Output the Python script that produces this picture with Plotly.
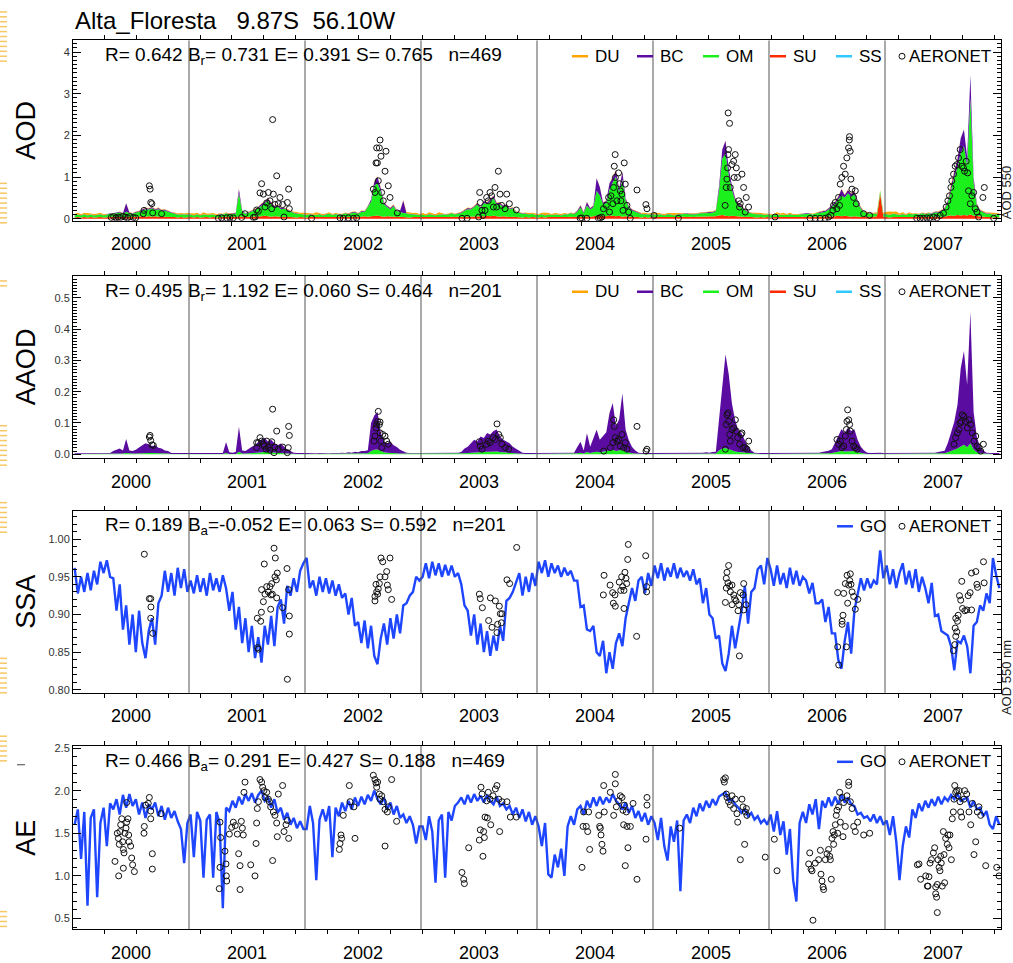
import plotly.graph_objects as go

FONT = "Liberation Sans, Arial, Helvetica, sans-serif"

# ---------------------------------------------------------------- text
site_title = "Alta_Floresta\u00a0\u00a0\u00a09.87S\u00a0\u00a056.10W"
years = [2000, 2001, 2002, 2003, 2004, 2005, 2006, 2007]
year_labels = ["2000", "2001", "2002", "2003", "2004", "2005", "2006", "2007"]
panel_titles = ["AOD", "AAOD", "SSA", "AE"]
S3 = "\u00a0\u00a0\u00a0"
panel_stats = [
    "R= 0.642 B<sub>r</sub>= 0.731 E= 0.391 S= 0.765" + S3 + "n=469",
    "R= 0.495 B<sub>r</sub>= 1.192 E= 0.060 S= 0.464" + S3 + "n=201",
    "R= 0.189 B<sub>a</sub>=-0.052 E= 0.063 S= 0.592" + S3 + "n=201",
    "R= 0.466 B<sub>a</sub>= 0.291 E= 0.427 S= 0.188" + S3 + "n=469",
]
SLOTS_PER_YEAR = 36  # model values every ~10 days

# ---------------------------------------------------------------- model (GO) values, one list per year
aod_su = [
    [.03,.04,.03,.04,.03,.04,.03,.04,.04,.03,.04,.04,.05,.04,.05,.04,.05,.05,.04,.05,.05,.06,.05,.06,.05,.06,.05,.05,.04,.05,.04,.04,.03,.04,.03,.04],
    [.04,.03,.04,.03,.04,.04,.03,.04,.03,.04,.04,.05,.04,.05,.04,.06,.05,.04,.05,.05,.06,.05,.06,.07,.06,.05,.06,.05,.05,.04,.05,.04,.04,.03,.04,.03],
    [.03,.04,.04,.03,.04,.03,.04,.04,.03,.04,.05,.04,.05,.04,.05,.05,.04,.05,.06,.05,.06,.07,.08,.06,.05,.06,.05,.05,.04,.05,.04,.04,.03,.04,.04,.03],
    [.04,.03,.04,.04,.03,.04,.03,.04,.04,.05,.04,.05,.04,.05,.05,.06,.05,.06,.05,.06,.07,.06,.07,.06,.05,.06,.05,.04,.05,.04,.04,.03,.04,.03,.04,.03],
    [.03,.04,.03,.04,.04,.03,.04,.03,.04,.04,.05,.04,.05,.05,.04,.06,.05,.06,.07,.06,.07,.06,.08,.07,.06,.07,.05,.06,.05,.04,.05,.04,.03,.04,.03,.04],
    [.04,.03,.04,.03,.04,.04,.03,.04,.04,.05,.04,.05,.04,.05,.05,.06,.05,.06,.05,.06,.08,.09,.07,.06,.07,.06,.05,.05,.04,.05,.04,.04,.03,.04,.03,.04],
    [.03,.04,.04,.03,.04,.03,.04,.04,.03,.04,.05,.04,.05,.04,.05,.05,.06,.05,.06,.05,.06,.07,.06,.07,.06,.05,.06,.05,.04,.05,.04,.04,.05,.06,.60,.05],
    [.04,.03,.04,.04,.03,.04,.03,.04,.04,.05,.04,.05,.04,.05,.05,.06,.05,.06,.05,.07,.08,.07,.09,.08,.09,.08,.10,.07,.06,.05,.05,.04,.04,.03,.04,.03],
]
aod_om = [
    [.05,.06,.05,.07,.05,.06,.05,.06,.07,.05,.06,.08,.07,.09,.10,.08,.12,.09,.08,.10,.11,.14,.18,.16,.20,.15,.18,.14,.16,.12,.10,.08,.07,.06,.07,.06],
    [.06,.05,.07,.05,.06,.05,.07,.06,.05,.07,.06,.08,.07,.06,.08,.55,.12,.08,.10,.12,.15,.20,.26,.30,.38,.30,.22,.25,.18,.20,.15,.12,.10,.09,.08,.07],
    [.06,.07,.05,.06,.07,.05,.06,.08,.06,.07,.05,.06,.08,.07,.09,.10,.08,.12,.10,.22,.35,.72,.78,.60,.30,.22,.18,.25,.14,.12,.10,.09,.08,.07,.06,.06],
    [.06,.05,.07,.06,.05,.06,.07,.05,.06,.08,.06,.07,.10,.14,.18,.16,.22,.28,.20,.32,.28,.36,.42,.28,.30,.22,.26,.18,.20,.12,.10,.09,.08,.07,.08,.06],
    [.06,.07,.05,.06,.05,.07,.06,.05,.07,.06,.08,.07,.12,.22,.10,.26,.17,.22,.60,.50,.28,.32,.62,.80,.95,.58,.90,.38,.22,.16,.12,.10,.08,.07,.07,.06],
    [.06,.07,.06,.05,.07,.06,.05,.06,.07,.06,.08,.06,.07,.06,.08,.07,.09,.08,.10,.12,.60,1.35,1.50,1.00,.62,.38,.28,.22,.17,.10,.09,.08,.07,.07,.06,.06],
    [.06,.05,.07,.06,.05,.06,.07,.05,.06,.07,.06,.08,.07,.06,.08,.09,.10,.12,.16,.24,.30,.40,.50,.44,.55,.48,.52,.34,.20,.11,.09,.08,.07,.06,.06,.06],
    [.07,.06,.08,.07,.06,.07,.06,.08,.06,.07,.06,.08,.07,.08,.07,.09,.10,.12,.18,.32,.65,.92,1.15,1.50,1.65,1.20,2.80,.80,.26,.14,.10,.08,.08,.07,.07,.06],
]
aod_bc = [
    [.005,.005,.005,.005,.005,.005,.005,.005,.005,.005,.01,.01,.01,.01,.015,.01,.20,.01,.01,.015,.02,.025,.03,.025,.03,.02,.03,.02,.02,.015,.01,.01,.005,.005,.005,.005],
    [.005,.005,.005,.005,.005,.005,.005,.005,.005,.01,.01,.01,.01,.01,.015,.10,.02,.01,.015,.02,.02,.03,.04,.04,.05,.04,.03,.03,.025,.02,.02,.015,.01,.01,.005,.005],
    [.005,.005,.005,.005,.005,.005,.005,.005,.005,.005,.01,.01,.01,.01,.015,.02,.01,.015,.02,.03,.05,.10,.15,.08,.04,.03,.03,.03,.02,.02,.30,.01,.01,.005,.005,.005],
    [.005,.005,.005,.005,.005,.005,.005,.005,.005,.01,.01,.01,.015,.02,.03,.025,.03,.04,.03,.05,.04,.05,.06,.04,.04,.03,.035,.025,.02,.015,.01,.01,.01,.005,.005,.005],
    [.005,.005,.005,.005,.005,.005,.005,.005,.005,.01,.01,.01,.02,.05,.015,.08,.03,.04,.30,.20,.04,.05,.15,.12,.15,.07,.18,.05,.03,.02,.015,.01,.01,.005,.005,.005],
    [.005,.005,.005,.005,.005,.005,.005,.005,.005,.005,.01,.01,.01,.01,.01,.015,.01,.015,.02,.02,.10,.22,.30,.15,.10,.06,.04,.03,.025,.015,.01,.01,.005,.005,.005,.005],
    [.005,.005,.005,.005,.005,.005,.005,.005,.005,.005,.01,.01,.01,.01,.01,.015,.02,.02,.03,.04,.05,.06,.15,.06,.08,.07,.08,.05,.03,.015,.01,.01,.005,.005,.005,.005],
    [.005,.005,.005,.005,.005,.005,.005,.005,.005,.005,.01,.01,.01,.01,.01,.015,.02,.02,.03,.05,.10,.14,.20,.35,.40,.20,.55,.12,.04,.02,.015,.01,.01,.005,.005,.005],
]
aod_du = [
    [.03,.04,.02,.03,.05,.02,.03,.02,.03,.02,.01,.01,.01,.01,.01,.01,.01,.01,.01,.01,.01,.01,.01,.01,.01,.01,.01,.01,.01,.01,.01,.02,.02,.03,.02,.03],
    [.02,.04,.03,.02,.05,.03,.02,.03,.02,.01,.01,.01,.01,.01,.01,.01,.01,.01,.01,.01,.01,.01,.01,.01,.01,.01,.01,.01,.01,.01,.02,.01,.02,.03,.02,.04],
    [.04,.02,.03,.06,.02,.03,.02,.03,.02,.02,.01,.01,.01,.01,.01,.01,.01,.01,.01,.01,.01,.01,.01,.01,.01,.01,.01,.01,.01,.01,.01,.02,.03,.02,.04,.02],
    [.03,.02,.04,.03,.02,.05,.03,.02,.02,.01,.01,.01,.01,.01,.01,.01,.01,.01,.01,.01,.01,.01,.01,.01,.01,.01,.01,.01,.01,.01,.02,.01,.02,.03,.02,.03],
    [.02,.03,.06,.04,.02,.03,.02,.03,.02,.01,.01,.01,.01,.01,.01,.01,.01,.01,.01,.01,.01,.01,.01,.01,.01,.01,.01,.01,.01,.01,.01,.02,.02,.03,.02,.03],
    [.03,.04,.02,.03,.02,.03,.04,.02,.02,.01,.01,.01,.01,.01,.01,.01,.01,.01,.01,.01,.01,.01,.01,.01,.01,.01,.01,.01,.01,.01,.01,.02,.03,.02,.03,.02],
    [.03,.02,.04,.03,.05,.02,.03,.02,.02,.01,.01,.01,.01,.01,.01,.01,.01,.01,.01,.01,.01,.01,.01,.01,.01,.01,.01,.01,.01,.01,.02,.01,.02,.03,.02,.03],
    [.05,.08,.04,.06,.03,.04,.02,.03,.02,.01,.01,.01,.01,.01,.01,.01,.01,.01,.01,.01,.01,.01,.01,.01,.01,.01,.01,.01,.01,.01,.01,.02,.02,.03,.02,.03],
]
aaod_om = [
    [.001,.001,.001,.001,.001,.001,.001,.001,.001,.001,.001,.001,.002,.002,.003,.002,.004,.002,.002,.002,.003,.004,.005,.004,.004,.004,.003,.003,.002,.002,.001,.001,.001,.001,.001,.001],
    [.001,.001,.001,.001,.001,.001,.001,.001,.001,.001,.001,.004,.001,.001,.001,.008,.002,.002,.003,.004,.004,.005,.006,.007,.006,.006,.005,.004,.004,.003,.002,.002,.001,.001,.001,.001],
    [.001,.001,.001,.001,.001,.001,.001,.001,.001,.001,.001,.001,.001,.001,.001,.002,.001,.002,.002,.003,.010,.014,.015,.010,.006,.005,.005,.004,.003,.002,.002,.001,.001,.001,.001,.001],
    [.001,.001,.001,.001,.001,.001,.001,.001,.001,.001,.001,.001,.002,.003,.004,.005,.006,.006,.007,.007,.008,.008,.009,.009,.007,.006,.005,.005,.004,.003,.002,.001,.001,.001,.001,.001],
    [.001,.001,.001,.001,.001,.001,.001,.001,.001,.001,.001,.001,.003,.005,.002,.007,.004,.006,.008,.006,.008,.010,.012,.014,.010,.012,.014,.008,.005,.003,.002,.001,.001,.001,.001,.001],
    [.001,.001,.001,.001,.001,.001,.001,.001,.001,.001,.001,.001,.001,.001,.001,.001,.001,.001,.002,.002,.012,.018,.020,.016,.012,.009,.007,.006,.004,.003,.002,.001,.001,.001,.001,.001],
    [.001,.001,.001,.001,.001,.001,.001,.001,.001,.001,.001,.001,.001,.001,.001,.001,.002,.002,.003,.004,.006,.008,.010,.009,.010,.009,.010,.006,.004,.002,.001,.001,.001,.001,.001,.001],
    [.001,.001,.001,.001,.001,.001,.001,.001,.001,.001,.001,.001,.001,.001,.001,.001,.002,.002,.003,.006,.010,.014,.018,.025,.030,.022,.035,.015,.006,.003,.002,.001,.001,.001,.001,.001],
]
aaod_bc = [
    [.002,.002,.003,.002,.002,.003,.002,.002,.003,.002,.002,.003,.008,.012,.015,.010,.045,.010,.008,.012,.020,.025,.030,.028,.022,.025,.018,.015,.010,.008,.003,.003,.003,.002,.003,.002],
    [.003,.002,.003,.002,.003,.002,.003,.002,.003,.002,.003,.035,.005,.004,.006,.080,.010,.008,.015,.020,.025,.035,.040,.045,.035,.040,.030,.025,.030,.020,.012,.008,.004,.003,.004,.003],
    [.003,.002,.003,.002,.003,.002,.003,.002,.003,.002,.003,.004,.003,.005,.004,.006,.005,.008,.008,.010,.090,.110,.120,.060,.035,.030,.035,.025,.020,.012,.008,.004,.003,.004,.003,.003],
    [.003,.002,.003,.002,.003,.002,.003,.002,.003,.002,.003,.004,.005,.015,.020,.030,.040,.035,.050,.045,.060,.055,.065,.070,.050,.040,.035,.030,.020,.015,.010,.004,.003,.004,.003,.003],
    [.003,.002,.003,.002,.003,.002,.003,.002,.003,.002,.003,.004,.020,.035,.010,.060,.020,.045,.070,.040,.050,.060,.120,.150,.080,.100,.180,.070,.040,.020,.010,.004,.003,.004,.003,.003],
    [.003,.002,.003,.002,.003,.002,.003,.002,.003,.002,.003,.004,.003,.004,.003,.004,.005,.004,.005,.006,.100,.200,.300,.240,.150,.100,.070,.060,.040,.020,.010,.004,.003,.004,.003,.003],
    [.003,.002,.003,.002,.003,.002,.003,.002,.003,.002,.003,.004,.003,.004,.003,.004,.005,.006,.008,.012,.030,.050,.070,.060,.075,.065,.070,.040,.020,.010,.004,.003,.004,.003,.004,.003],
    [.003,.002,.003,.002,.003,.002,.003,.002,.003,.002,.003,.004,.003,.004,.003,.004,.005,.006,.008,.030,.060,.090,.140,.250,.300,.200,.420,.120,.050,.020,.010,.004,.003,.004,.003,.003],
]
ssa_go = [
    [0.962,0.928,0.950,0.930,0.955,0.932,0.958,0.940,0.970,0.955,0.972,0.950,0.948,0.905,0.940,0.880,0.912,0.860,0.900,0.850,0.905,0.862,0.842,0.878,0.895,0.860,0.915,0.925,0.958,0.930,0.955,0.925,0.962,0.935,0.960,0.930],
    [0.945,0.928,0.952,0.930,0.948,0.925,0.955,0.932,0.948,0.930,0.952,0.935,0.905,0.930,0.880,0.910,0.862,0.895,0.850,0.885,0.842,0.870,0.836,0.885,0.860,0.898,0.858,0.910,0.920,0.888,0.938,0.925,0.948,0.930,0.958,0.968],
    [0.975,0.935,0.945,0.925,0.950,0.930,0.948,0.928,0.945,0.925,0.940,0.922,0.928,0.900,0.922,0.885,0.890,0.862,0.892,0.855,0.885,0.845,0.834,0.868,0.888,0.860,0.895,0.868,0.900,0.875,0.912,0.915,0.925,0.930,0.950,0.945],
    [0.950,0.968,0.948,0.970,0.952,0.968,0.950,0.966,0.952,0.965,0.950,0.955,0.940,0.912,0.905,0.872,0.900,0.860,0.888,0.850,0.878,0.845,0.872,0.852,0.885,0.865,0.918,0.922,0.930,0.942,0.955,0.925,0.950,0.930,0.955,0.938],
    [0.970,0.955,0.972,0.950,0.968,0.955,0.965,0.950,0.962,0.952,0.958,0.945,0.945,0.910,0.912,0.880,0.878,0.885,0.850,0.845,0.865,0.822,0.850,0.828,0.862,0.875,0.858,0.895,0.915,0.935,0.918,0.945,0.950,0.928,0.955,0.938],
    [0.965,0.948,0.968,0.945,0.962,0.950,0.968,0.948,0.962,0.950,0.958,0.945,0.960,0.940,0.948,0.915,0.935,0.900,0.895,0.868,0.872,0.835,0.825,0.848,0.885,0.855,0.880,0.905,0.938,0.888,0.930,0.935,0.960,0.965,0.940,0.975],
    [0.960,0.938,0.965,0.940,0.955,0.935,0.962,0.940,0.958,0.938,0.950,0.945,0.928,0.942,0.915,0.915,0.920,0.890,0.910,0.875,0.875,0.840,0.828,0.865,0.890,0.848,0.905,0.925,0.948,0.932,0.948,0.935,0.945,0.940,0.985,0.948],
    [0.965,0.940,0.960,0.935,0.955,0.968,0.940,0.958,0.935,0.960,0.930,0.950,0.935,0.915,0.942,0.898,0.900,0.878,0.875,0.872,0.858,0.826,0.865,0.862,0.872,0.858,0.822,0.885,0.890,0.912,0.905,0.928,0.915,0.975,0.952,0.935],
]
ae_go = [
    [1.60,1.78,1.20,1.75,0.65,1.68,1.78,0.75,1.62,1.80,1.35,1.85,1.78,1.90,1.72,1.95,1.80,1.96,1.82,1.90,1.72,1.86,1.68,1.84,1.78,1.86,1.70,1.82,1.66,1.80,1.68,1.76,1.64,1.55,1.15,1.62],
    [1.72,1.22,1.75,1.65,0.98,1.66,1.72,0.98,1.75,1.62,0.62,1.80,1.76,1.88,1.80,1.93,1.84,1.96,1.88,1.97,1.86,1.95,2.00,1.88,1.92,1.80,1.90,1.74,1.80,1.66,1.74,1.60,1.68,1.56,1.64,1.55],
    [1.55,1.82,1.62,0.95,1.66,1.78,1.64,1.82,1.22,1.80,1.70,1.86,1.76,1.88,1.78,1.92,1.82,1.93,1.84,1.95,1.88,2.00,1.90,1.84,1.92,1.78,1.86,1.72,1.82,1.68,1.72,1.62,1.70,1.60,1.38,1.58],
    [1.58,1.42,1.70,1.52,0.92,1.65,1.72,0.98,1.75,1.65,1.82,1.86,1.92,1.84,1.95,1.86,1.96,1.88,1.94,1.86,1.95,1.88,1.84,1.93,1.82,1.85,1.78,1.82,1.72,1.80,1.68,1.78,1.64,1.75,1.60,1.70],
    [1.58,1.35,1.62,1.02,0.98,1.25,1.10,1.32,1.00,1.58,1.70,1.60,1.78,1.82,1.72,1.88,1.80,1.92,1.82,1.93,1.84,1.92,1.86,1.96,1.88,1.84,1.78,1.86,1.74,1.82,1.68,1.76,1.64,1.74,1.60,1.70],
    [1.62,1.42,1.68,1.35,1.18,1.58,1.40,1.65,0.82,1.65,1.72,1.62,1.80,1.70,1.85,1.76,1.88,1.80,1.90,1.83,1.93,1.96,1.98,1.88,1.90,1.84,1.80,1.74,1.78,1.70,1.74,1.66,1.70,1.62,1.66,1.60],
    [1.72,1.52,1.76,1.48,1.64,1.25,1.55,0.95,0.70,1.62,1.75,1.62,1.84,1.72,1.90,1.55,1.88,1.80,1.92,1.82,1.93,1.84,1.95,1.86,1.92,1.84,1.82,1.72,1.74,1.68,1.70,1.64,1.72,1.62,1.70,1.60],
    [1.65,1.48,1.70,1.40,0.95,1.35,1.58,1.45,1.78,1.68,1.85,1.76,1.88,1.80,1.90,1.82,1.93,1.84,1.92,1.88,1.95,1.90,1.96,1.88,1.90,1.92,1.80,1.88,1.78,1.80,1.70,1.76,1.60,1.55,1.70,1.60],
]

# ---------------------------------------------------------------- AERONET observations (decimal year, value)
aod_obs = [
    (2000.33,0.03),(2000.35,0.05),(2000.37,0.02),(2000.39,0.04),(2000.41,0.03),(2000.43,0.06),(2000.45,0.04),(2000.47,0.02),(2000.49,0.05),(2000.52,0.03),(2000.54,0.02),
    (2000.606,0.12),(2000.612,0.20),(2000.658,0.79),(2000.665,0.71),(2000.670,0.39),(2000.680,0.36),(2000.687,0.14),(2000.764,0.12),
    (2001.253,0.01),(2001.282,0.02),(2001.325,0.02),(2001.353,0.03),(2001.382,0.02),(2001.454,0.03),(2001.483,0.12),(2001.555,0.03),(2001.569,0.04),(2001.583,0.21),
    (2001.598,0.18),(2001.612,0.62),(2001.626,0.84),(2001.641,0.59),(2001.655,0.28),(2001.670,0.38),(2001.684,0.63),(2001.698,0.43),(2001.713,0.24),(2001.721,2.38),
    (2001.727,0.59),(2001.741,0.34),(2001.756,1.03),(2001.770,0.36),(2001.784,0.51),(2001.807,0.34),(2001.819,0.04),(2001.848,0.39),(2001.859,0.71),(2001.865,0.24),
    (2002.057,0.01),(2002.302,0.02),(2002.330,0.01),(2002.374,0.02),(2002.417,0.01),(2002.445,0.02),(2002.589,0.71),(2002.603,0.63),(2002.612,1.34),(2002.618,1.70),
    (2002.624,1.34),(2002.632,0.91),(2002.641,1.70),(2002.647,1.89),(2002.655,1.50),(2002.661,0.63),(2002.675,0.43),(2002.690,1.14),(2002.698,1.62),(2002.718,0.79),
    (2002.733,0.51),(2002.796,0.14),
    (2003.353,0.01),(2003.397,0.01),(2003.497,0.04),(2003.506,0.63),(2003.511,0.39),(2003.526,0.20),(2003.534,0.08),(2003.552,0.20),(2003.566,0.51),(2003.580,0.43),
    (2003.595,0.63),(2003.609,0.55),(2003.624,0.28),(2003.638,0.75),(2003.652,0.28),(2003.667,1.14),(2003.681,0.59),(2003.695,0.32),(2003.724,0.24),(2003.739,0.59),
    (2003.762,0.36),(2003.822,0.21),
    (2004.372,0.01),(2004.386,0.02),(2004.429,0.01),(2004.530,0.01),(2004.545,0.02),(2004.559,0.04),(2004.573,0.24),(2004.597,0.32),(2004.617,0.51),(2004.625,0.16),
    (2004.637,0.55),(2004.654,0.36),(2004.660,0.75),(2004.674,1.54),(2004.666,1.26),(2004.676,0.99),(2004.689,0.43),(2004.703,1.10),(2004.712,0.84),(2004.718,0.67),
    (2004.723,0.43),(2004.732,0.59),(2004.741,0.20),(2004.752,1.34),(2004.761,0.83),(2004.775,0.32),(2004.790,0.16),(2004.804,0.01),(2004.862,0.69),(2004.939,0.34),
    (2004.948,0.24),
    (2005.009,0.08),(2005.219,0.01),(2005.622,0.32),(2005.631,0.75),(2005.637,0.95),(2005.643,1.22),(2005.646,1.54),(2005.651,1.66),(2005.660,2.29),(2005.648,2.54),
    (2005.666,0.75),(2005.680,1.30),(2005.695,1.38),(2005.700,0.99),(2005.709,1.54),(2005.718,1.22),(2005.729,0.99),(2005.738,0.43),(2005.746,0.28),(2005.752,0.36),
    (2005.767,1.07),(2005.781,0.75),(2005.804,0.51),(2005.824,0.28),(2005.795,0.16),
    (2006.052,0.04),(2006.354,0.01),(2006.398,0.01),(2006.441,0.01),(2006.484,0.01),(2006.513,0.04),(2006.533,0.08),(2006.550,0.20),(2006.556,0.32),(2006.571,0.39),
    (2006.585,0.24),(2006.599,0.51),(2006.608,0.32),(2006.614,0.83),(2006.628,0.99),(2006.643,1.26),(2006.657,1.07),(2006.671,1.46),(2006.686,1.70),(2006.692,1.89),
    (2006.694,1.97),(2006.700,1.62),(2006.706,0.95),(2006.715,0.71),(2006.729,0.51),(2006.744,0.67),(2006.752,0.36),(2006.816,0.12),(2006.867,0.08),
    (2007.274,0.01),(2007.303,0.01),(2007.331,0.01),(2007.360,0.02),(2007.389,0.02),(2007.418,0.04),(2007.447,0.02),(2007.476,0.08),(2007.504,0.13),(2007.527,0.28),
    (2007.542,0.43),(2007.556,0.55),(2007.568,0.75),(2007.576,0.91),(2007.591,1.07),(2007.605,1.26),(2007.620,1.30),(2007.634,1.46),(2007.648,1.66),(2007.663,1.26),
    (2007.677,1.22),(2007.686,1.14),(2007.700,1.38),(2007.712,1.10),(2007.720,0.67),(2007.735,0.36),(2007.749,0.55),(2007.764,0.63),(2007.778,0.24),(2007.793,0.16),
    (2007.807,0.04),(2007.844,0.51),(2007.856,0.75),(2007.937,0.01),
]
aaod_obs = [
    (2000.658,0.055),(2000.664,0.060),(2000.670,0.044),(2000.681,0.030),(2000.693,0.028),
    (2001.583,0.021),(2001.583,0.037),(2001.598,0.037),(2001.612,0.053),(2001.626,0.042),(2001.641,0.032),(2001.649,0.026),(2001.664,0.016),(2001.670,0.042),
    (2001.684,0.021),(2001.698,0.013),(2001.713,0.040),(2001.721,0.144),(2001.733,0.005),(2001.741,0.023),(2001.756,0.074),(2001.770,0.016),(2001.807,0.023),
    (2001.848,0.005),(2001.856,0.021),(2001.859,0.089),(2001.865,0.060),
    (2002.595,0.042),(2002.603,0.058),(2002.612,0.084),(2002.618,0.095),(2002.626,0.105),(2002.632,0.137),(2002.641,0.095),(2002.647,0.103),(2002.647,0.068),
    (2002.655,0.042),(2002.661,0.021),(2002.670,0.063),(2002.690,0.058),(2002.704,0.042),(2002.718,0.032),
    (2003.503,0.040),(2003.511,0.026),(2003.526,0.016),(2003.566,0.032),(2003.580,0.042),(2003.595,0.037),(2003.621,0.053),(2003.641,0.047),(2003.655,0.097),
    (2003.670,0.063),(2003.684,0.053),(2003.698,0.032),(2003.727,0.021),(2003.756,0.016),
    (2004.575,0.010),(2004.632,0.021),(2004.655,0.037),(2004.661,0.110),(2004.667,0.089),(2004.675,0.053),(2004.690,0.042),(2004.704,0.047),(2004.718,0.026),
    (2004.733,0.063),(2004.747,0.021),(2004.761,0.037),(2004.776,0.016),(2004.862,0.089),(2004.940,0.010),(2004.948,0.016),
    (2005.624,0.016),(2005.632,0.095),(2005.638,0.126),(2005.647,0.132),(2005.652,0.105),(2005.661,0.063),(2005.667,0.042),(2005.681,0.079),(2005.695,0.084),
    (2005.710,0.110),(2005.718,0.074),(2005.730,0.053),(2005.747,0.032),(2005.759,0.063),(2005.767,0.068),(2005.776,0.021),(2005.796,0.021),(2005.810,0.016),(2005.825,0.042),
    (2006.586,0.047),(2006.601,0.032),(2006.615,0.042),(2006.629,0.021),(2006.644,0.026),(2006.658,0.058),(2006.667,0.079),(2006.672,0.105),(2006.678,0.142),
    (2006.687,0.110),(2006.695,0.095),(2006.701,0.074),(2006.716,0.042),(2006.730,0.026),(2006.744,0.021),(2006.759,0.016),
    (2007.595,0.032),(2007.609,0.053),(2007.624,0.068),(2007.638,0.079),(2007.647,0.100),(2007.658,0.105),(2007.667,0.126),(2007.681,0.121),(2007.695,0.105),
    (2007.710,0.084),(2007.724,0.110),(2007.739,0.095),(2007.753,0.068),(2007.767,0.042),(2007.782,0.058),(2007.796,0.026),(2007.810,0.021),(2007.825,0.010),(2007.848,0.032),
]
ssa_obs = [
    (2000.615,0.980),(2000.658,0.921),(2000.670,0.921),(2000.672,0.910),(2000.670,0.895),(2000.687,0.875),
    (2001.592,0.856),(2001.598,0.854),(2001.589,0.895),(2001.624,0.903),(2001.618,0.891),(2001.649,0.967),(2001.641,0.917),(2001.655,0.927),(2001.626,0.933),
    (2001.670,0.937),(2001.684,0.930),(2001.698,0.937),(2001.707,0.926),(2001.718,0.927),(2001.713,0.941),(2001.733,0.988),(2001.744,0.975),(2001.741,0.950),
    (2001.761,0.955),(2001.753,0.946),(2001.756,0.922),(2001.704,0.907),(2001.807,0.909),(2001.845,0.961),(2001.859,0.933),(2001.865,0.898),(2001.865,0.874),(2001.848,0.814),
    (2002.603,0.924),(2002.603,0.918),(2002.618,0.930),(2002.632,0.934),(2002.641,0.941),(2002.647,0.950),(2002.655,0.975),(2002.670,0.970),(2002.690,0.950),
    (2002.704,0.957),(2002.710,0.939),(2002.718,0.933),(2002.733,0.975),(2002.747,0.920),(2002.626,0.927),(2002.612,0.940),
    (2003.503,0.927),(2003.511,0.921),(2003.529,0.909),(2003.583,0.892),(2003.598,0.922),(2003.612,0.883),(2003.641,0.918),(2003.655,0.876),(2003.661,0.887),
    (2003.675,0.911),(2003.684,0.901),(2003.693,0.889),(2003.698,0.901),(2003.741,0.946),(2003.764,0.941),(2003.825,0.989),
    (2004.578,0.952),(2004.572,0.926),(2004.630,0.939),(2004.652,0.929),(2004.672,0.926),(2004.658,0.915),(2004.675,0.911),(2004.709,0.943),(2004.730,0.950),
    (2004.758,0.956),(2004.767,0.948),(2004.739,0.937),(2004.722,0.932),(2004.750,0.932),(2004.773,0.941),(2004.750,0.908),(2004.787,0.993),(2004.782,0.973),
    (2004.859,0.871),(2004.937,0.978),(2004.945,0.937),(2004.945,0.930),
    (2005.652,0.965),(2005.638,0.956),(2005.632,0.948),(2005.646,0.942),(2005.661,0.938),(2005.632,0.935),(2005.667,0.930),(2005.624,0.916),(2005.681,0.939),
    (2005.696,0.926),(2005.704,0.921),(2005.716,0.918),(2005.739,0.913),(2005.753,0.929),(2005.782,0.941),(2005.776,0.926),(2005.681,0.913),(2005.733,0.905),
    (2005.782,0.906),(2005.802,0.913),(2005.745,0.845),
    (2006.592,0.929),(2006.592,0.857),(2006.601,0.833),(2006.630,0.891),(2006.638,0.899),(2006.630,0.887),(2006.644,0.928),(2006.658,0.941),(2006.673,0.952),
    (2006.687,0.939),(2006.667,0.857),(2006.678,0.915),(2006.696,0.945),(2006.707,0.940),(2006.716,0.930),(2006.730,0.924),(2006.701,0.954),(2006.744,0.907),(2006.765,0.920),
    (2007.590,0.852),(2007.602,0.860),(2007.610,0.871),(2007.619,0.877),(2007.605,0.882),(2007.610,0.895),(2007.625,0.891),(2007.631,0.899),(2007.642,0.925),
    (2007.653,0.919),(2007.668,0.908),(2007.662,0.944),(2007.688,0.905),(2007.705,0.906),(2007.717,0.925),(2007.734,0.929),(2007.746,0.906),(2007.746,0.955),
    (2007.783,0.957),(2007.792,0.940),(2007.798,0.936),(2007.849,0.970),(2007.855,0.942),
]
ae_obs = [
    (2000.382,1.50),(2000.391,1.44),(2000.399,1.37),(2000.405,1.52),(2000.411,1.60),(2000.420,1.67),(2000.428,1.40),(2000.434,1.31),(2000.440,1.27),(2000.448,1.50),
    (2000.457,1.56),(2000.463,1.63),(2000.474,1.67),(2000.480,1.48),(2000.483,1.40),(2000.463,1.86),(2000.497,1.35),(2000.506,1.21),(2000.514,1.13),(2000.529,1.05),
    (2000.362,1.17),(2000.394,1.00),(2000.434,1.09),(2000.612,1.50),(2000.615,1.58),(2000.626,1.83),(2000.649,1.85),(2000.658,1.92),(2000.670,1.76),(2000.670,1.67),
    (2000.684,1.26),(2000.684,1.08),(2000.759,1.73),
    (2001.261,0.85),(2001.267,1.10),(2001.273,1.45),(2001.267,1.63),(2001.310,1.29),(2001.319,1.14),(2001.322,1.00),(2001.325,0.94),(2001.348,1.49),(2001.368,1.57),
    (2001.382,1.63),(2001.399,1.59),(2001.417,1.49),(2001.428,1.26),(2001.440,1.12),(2001.440,0.84),(2001.451,1.64),(2001.460,1.56),(2001.468,1.48),(2001.474,1.98),
    (2001.483,2.10),(2001.532,1.13),(2001.569,1.00),(2001.578,1.38),(2001.583,1.62),(2001.589,1.79),(2001.598,1.87),(2001.612,2.13),(2001.626,2.10),(2001.635,2.04),
    (2001.646,2.00),(2001.655,1.92),(2001.670,1.98),(2001.684,1.90),(2001.693,1.87),(2001.704,1.81),(2001.721,1.18),(2001.727,1.75),(2001.741,1.71),(2001.756,1.62),
    (2001.761,1.46),(2001.770,1.96),(2001.807,2.06),(2001.819,1.52),(2001.836,1.60),(2001.848,1.65),(2001.859,1.44),
    (2002.296,1.31),(2002.302,1.38),(2002.310,1.48),(2002.316,1.44),(2002.330,1.71),(2002.382,2.06),(2002.388,1.87),(2002.422,1.81),(2002.431,1.44),(2002.589,2.18),
    (2002.603,2.13),(2002.612,2.09),(2002.618,2.04),(2002.626,2.10),(2002.641,1.96),(2002.647,1.90),(2002.661,1.94),(2002.675,1.87),(2002.690,1.78),(2002.690,1.35),
    (2002.710,1.75),(2002.718,1.81),(2002.747,2.13),(2002.790,1.64),
    (2003.353,1.04),(2003.368,0.96),(2003.374,0.91),(2003.411,1.33),(2003.503,1.42),(2003.511,1.54),(2003.517,2.04),(2003.526,1.96),(2003.540,1.52),(2003.546,1.45),
    (2003.534,1.23),(2003.552,1.69),(2003.566,1.88),(2003.572,1.68),(2003.580,1.98),(2003.595,1.90),(2003.601,1.60),(2003.621,1.94),(2003.641,2.02),(2003.655,2.06),
    (2003.670,1.90),(2003.678,1.52),(2003.698,1.87),(2003.741,1.87),(2003.770,1.69),(2003.822,1.69),
    (2004.388,1.10),(2004.402,1.75),(2004.397,1.58),(2004.425,1.58),(2004.437,1.52),(2004.445,1.75),(2004.454,1.31),(2004.532,1.71),(2004.540,1.58),(2004.546,1.56),
    (2004.552,1.48),(2004.560,1.37),(2004.569,1.29),(2004.575,2.06),(2004.580,1.75),(2004.632,1.98),(2004.661,1.71),(2004.675,2.19),(2004.675,2.08),(2004.684,1.81),
    (2004.704,1.88),(2004.718,1.94),(2004.733,1.92),(2004.741,1.77),(2004.747,1.60),(2004.753,1.83),(2004.761,1.12),(2004.770,1.75),(2004.776,1.58),(2004.784,1.33),
    (2004.805,1.58),(2004.828,1.85),(2004.862,0.96),(2004.940,1.43),(2004.948,1.92),(2004.948,1.83),
    (2005.230,1.56),(2005.609,2.13),(2005.624,2.15),(2005.615,2.10),(2005.632,1.96),(2005.638,1.92),(2005.652,1.87),(2005.667,1.83),(2005.681,1.94),(2005.695,1.79),
    (2005.710,1.90),(2005.724,1.73),(2005.730,1.63),(2005.753,1.19),(2005.767,1.90),(2005.776,1.81),(2005.790,1.37),(2005.796,1.75),(2005.805,1.79),(2005.810,1.71),
    (2005.968,1.22),
    (2006.046,1.43),(2006.069,1.06),(2006.342,1.14),(2006.351,1.27),(2006.362,1.08),(2006.371,1.06),(2006.379,0.48),(2006.399,1.15),(2006.428,1.19),(2006.443,1.30),
    (2006.448,1.02),(2006.457,0.94),(2006.466,0.87),(2006.471,0.84),(2006.486,1.19),(2006.500,1.26),(2006.514,1.31),(2006.523,1.23),(2006.529,1.19),(2006.537,0.96),
    (2006.543,1.44),(2006.552,1.52),(2006.557,1.37),(2006.563,1.48),(2006.572,1.60),(2006.580,1.71),(2006.586,1.77),(2006.592,1.50),(2006.600,1.81),(2006.609,1.98),
    (2006.615,1.63),(2006.629,1.92),(2006.638,1.46),(2006.644,1.86),(2006.658,1.58),(2006.672,1.94),(2006.687,2.10),(2006.687,2.06),(2006.701,1.87),(2006.716,1.79),
    (2006.730,1.58),(2006.744,1.52),(2006.764,1.63),(2006.816,1.48),(2006.868,1.50),
    (2007.279,1.13),(2007.293,1.14),(2007.307,0.96),(2007.351,1.00),(2007.365,0.88),(2007.371,0.88),(2007.379,0.99),(2007.388,1.15),(2007.400,1.19),(2007.417,1.27),
    (2007.428,1.33),(2007.437,0.87),(2007.437,0.79),(2007.445,0.75),(2007.451,0.90),(2007.451,0.57),(2007.457,1.19),(2007.466,1.10),(2007.474,1.06),(2007.480,1.23),
    (2007.485,1.15),(2007.494,0.88),(2007.503,1.52),(2007.509,1.25),(2007.514,0.92),(2007.523,1.44),(2007.537,1.37),(2007.543,1.48),(2007.552,1.33),(2007.560,1.48),
    (2007.572,1.19),(2007.580,1.67),(2007.589,1.75),(2007.595,1.90),(2007.601,2.06),(2007.609,1.98),(2007.618,2.00),(2007.629,1.94),(2007.638,2.00),(2007.647,1.87),
    (2007.652,1.75),(2007.661,1.69),(2007.681,1.90),(2007.687,2.00),(2007.704,1.96),(2007.724,1.75),(2007.739,1.60),(2007.753,1.85),(2007.767,1.25),(2007.782,1.40),
    (2007.796,1.75),(2007.810,1.81),(2007.825,1.71),(2007.868,1.12),(2007.963,1.10),(2007.983,1.00),
]

# ---------------------------------------------------------------- styling
C_DU, C_BC, C_OM, C_SU, C_SS = "#ffa500", "#5a0ca0", "#1cf01c", "#ff2a00", "#30c8ff"
C_GO, C_OBS = "#1e46ff", "#111111"
C_EDGE = "#f6c766"

for series in (aod_su, aod_om, aod_bc, aod_du, aaod_om, aaod_bc, ssa_go, ae_go):
    assert len(series) == len(years) and all(len(s) == SLOTS_PER_YEAR for s in series)

t_model = [y + (k + 0.5) / SLOTS_PER_YEAR for y in years for k in range(SLOTS_PER_YEAR)]


def flat(yearly):
    return [v for yr in yearly for v in yr]


def unzip(pairs):
    return [p[0] for p in pairs], [p[1] for p in pairs]


W, H = 1013, 963
ML, MR = 73, 12
PW = W - ML - MR
panel_top_px = [37, 276, 514, 753]
panel_bot_px = [220, 461, 699, 939]


def px_x(px):
    return (px - ML) / PW


def px_y(py):
    return 1 - py / H


fig = go.Figure()


def area(y, color, name, ax, group):
    fig.add_trace(go.Scatter(x=t_model, y=flat(y), name=name, mode="lines", stackgroup=group,
                             line=dict(color=color, width=0), fillcolor=color,
                             xaxis=ax[0], yaxis=ax[1], showlegend=False, hoverinfo="skip"))


def obs(pairs, ax):
    xs, ys = unzip(pairs)
    fig.add_trace(go.Scatter(x=xs, y=ys, mode="markers", name="AERONET",
                             marker=dict(symbol="circle-open", size=6, color=C_OBS, line=dict(width=1)),
                             xaxis=ax[0], yaxis=ax[1], showlegend=False))


# panel 1 : AOD stacked components
area(aod_su, C_SU, "SU", ("x", "y"), "aod")
area(aod_om, C_OM, "OM", ("x", "y"), "aod")
area(aod_bc, C_BC, "BC", ("x", "y"), "aod")
area(aod_du, C_DU, "DU", ("x", "y"), "aod")
obs(aod_obs, ("x", "y"))
# panel 2 : AAOD stacked components
area(aaod_om, C_OM, "OM", ("x2", "y2"), "aaod")
area(aaod_bc, C_BC, "BC", ("x2", "y2"), "aaod")
obs(aaod_obs, ("x2", "y2"))
# panel 3 : SSA
fig.add_trace(go.Scatter(x=t_model, y=flat(ssa_go), mode="lines", name="GO",
                         line=dict(color=C_GO, width=2.4), xaxis="x3", yaxis="y3", showlegend=False))
obs(ssa_obs, ("x3", "y3"))
# panel 4 : AE
fig.add_trace(go.Scatter(x=t_model, y=flat(ae_go), mode="lines", name="GO",
                         line=dict(color=C_GO, width=2.4), xaxis="x4", yaxis="y4", showlegend=False))
obs(ae_obs, ("x4", "y4"))

# ---------------------------------------------------------------- axes
hundred_day_ticks = [2000 + k * 100 / 365.25 for k in range(1, 30)]
y_specs = [
    dict(range=[-0.05, 4.28], dtick=1, minor=0.1, fmt="d"),
    dict(range=[-0.013, 0.57], dtick=0.1, minor=0.01, fmt=".1f"),
    dict(range=[0.796, 1.038], dtick=0.05, minor=0.01, fmt=".2f"),
    dict(range=[0.373, 2.523], dtick=0.5, minor=0.1, fmt=".1f"),
]
layout_axes = {}
for i in range(4):
    sx = "" if i == 0 else str(i + 1)
    dom = [px_y(panel_bot_px[i]), px_y(panel_top_px[i])]
    layout_axes["xaxis" + sx] = dict(
        domain=[0, 1], range=[2000, 2008], anchor="y" + sx,
        tickmode="array", tickvals=[y + 0.5 for y in years], ticktext=year_labels,
        ticks="outside", ticklen=7, tickcolor="rgba(0,0,0,0)",
        tickfont=dict(size=18, color="black", family=FONT),
        showline=True, linecolor="black", linewidth=1, mirror="ticks",
        showgrid=False, zeroline=False,
        minor=dict(tickmode="array", tickvals=hundred_day_ticks, ticks="outside",
                   ticklen=4, tickcolor="black", tickwidth=1, showgrid=False))
    s = y_specs[i]
    layout_axes["yaxis" + sx] = dict(
        domain=dom, range=s["range"], anchor="x" + sx,
        tickmode="linear", tick0=0, dtick=s["dtick"], tickformat=s["fmt"],
        ticks="inside", ticklen=8, tickcolor="black", tickwidth=1,
        tickfont=dict(size=11, color="#333333", family=FONT),
        showline=True, linecolor="black", linewidth=1, mirror="ticks",
        showgrid=False, zeroline=False,
        minor=dict(tick0=0, dtick=s["minor"], ticks="inside", ticklen=4,
                   tickcolor="black", tickwidth=1, showgrid=False))

# ---------------------------------------------------------------- decorations
shapes, annotations = [], []
aod_legend = [("DU", C_DU, 572), ("BC", C_BC, 637), ("OM", C_OM, 703), ("SU", C_SU, 770), ("SS", C_SS, 836)]
go_legend = [("GO", C_GO, 837)]
aeronet_legend_px = 902
# faint orange page-margin dashes visible along the left edge of the source image
edge_dash_bands_px = [(8, 62), (182, 226), (281, 290), (428, 470), (506, 540), (664, 700), (743, 771), (921, 940)]

annotations.append(dict(xref="paper", yref="paper", x=0, y=px_y(17), xanchor="left", yanchor="middle",
                        text=site_title, showarrow=False, font=dict(size=24, color="black", family=FONT)))
for i in range(4):
    sx = "" if i == 0 else str(i + 1)
    top, bot = panel_top_px[i], panel_bot_px[i]
    row_y = px_y(top + 16)
    for yr in years[1:]:
        shapes.append(dict(type="line", xref="x" + sx, yref=("y" + sx) + " domain", x0=yr, x1=yr, y0=0, y1=1,
                           line=dict(color="#555555", width=1), layer="above"))
    annotations.append(dict(xref="paper", yref="paper", x=px_x(26), y=px_y((top + bot) / 2),
                            text=panel_titles[i], textangle=-90, showarrow=False,
                            xanchor="center", yanchor="middle", font=dict(size=27, color="black", family=FONT)))
    annotations.append(dict(xref="paper", yref="paper", x=px_x(103), y=row_y, xanchor="left", yanchor="middle",
                            text=panel_stats[i], showarrow=False, font=dict(size=19, color="black", family=FONT)))
    items = aod_legend if i < 2 else go_legend
    for label, color, p0 in items:
        shapes.append(dict(type="line", xref="paper", yref="paper", x0=px_x(p0), x1=px_x(p0 + 16),
                           y0=row_y, y1=row_y, line=dict(color=color, width=2.5)))
        annotations.append(dict(xref="paper", yref="paper", x=px_x(p0 + 21), y=row_y, xanchor="left",
                                yanchor="middle", text=label, showarrow=False,
                                font=dict(size=17, color="black", family=FONT)))
    c = aeronet_legend_px
    shapes.append(dict(type="circle", xref="paper", yref="paper", x0=px_x(c - 3), x1=px_x(c + 3),
                       y0=px_y(top + 16 + 3), y1=px_y(top + 16 - 3), line=dict(color=C_OBS, width=1)))
    annotations.append(dict(xref="paper", yref="paper", x=px_x(c + 5), y=row_y, xanchor="left",
                            yanchor="middle", text="AERONET", showarrow=False,
                            font=dict(size=17, color="black", family=FONT)))

for y0, y1 in edge_dash_bands_px:
    for yy in range(y0, y1 + 1, 5):
        shapes.append(dict(type="line", xref="paper", yref="paper", x0=px_x(0), x1=px_x(7),
                           y0=px_y(yy), y1=px_y(yy), line=dict(color=C_EDGE, width=1.5)))
shapes.append(dict(type="line", xref="paper", yref="paper", x0=px_x(17), x1=px_x(25),
                   y0=px_y(772), y1=px_y(772), line=dict(color="#444444", width=1)))

# right-hand axis captions squeezed against the image edge
annotations.append(dict(xref="paper", yref="paper", x=px_x(1006), y=px_y(191), text="AOD 550",
                        xanchor="center", yanchor="middle",
                        textangle=-90, showarrow=False, font=dict(size=13, color="#222222", family=FONT)))
annotations.append(dict(xref="paper", yref="paper", x=px_x(1006), y=px_y(683), text="AOD 550 nm",
                        xanchor="center", yanchor="middle",
                        textangle=-90, showarrow=False, font=dict(size=13, color="#222222", family=FONT)))

fig.update_layout(
    width=W, height=H,
    margin=dict(l=ML, r=MR, t=0, b=0, pad=0),
    paper_bgcolor="white", plot_bgcolor="white",
    font=dict(family=FONT, color="black"),
    showlegend=False, hovermode=False,
    shapes=shapes, annotations=annotations,
    **layout_axes,
)

fig.write_html("out.html", config={"displayModeBar": False},
               post_script="document.body.style.margin='0';document.body.style.overflow='hidden';")
